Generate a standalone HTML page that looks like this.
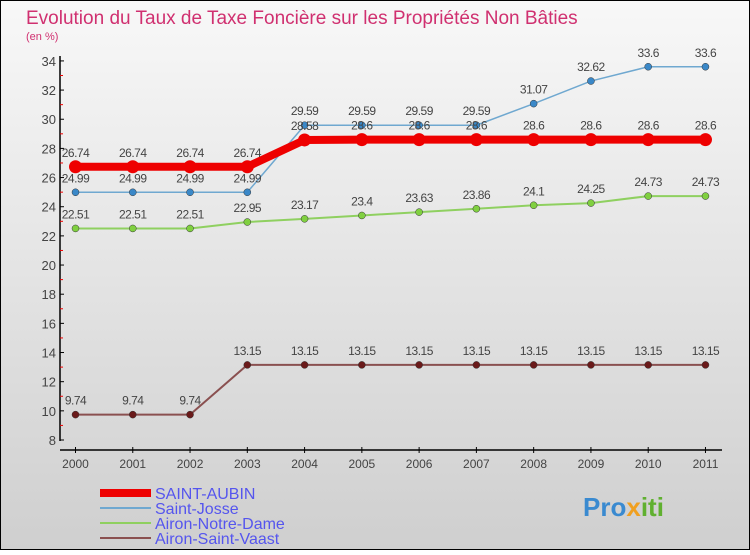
<!DOCTYPE html>
<html><head><meta charset="utf-8"><style>
body{margin:0;width:750px;height:550px;overflow:hidden;font-family:"Liberation Sans",sans-serif}
</style></head><body>
<svg width="750" height="550" xmlns="http://www.w3.org/2000/svg">
<defs><linearGradient id="bg" x1="0" y1="0" x2="0" y2="1"><stop offset="0" stop-color="#f8f8f8"/><stop offset="1" stop-color="#cfcfcf"/></linearGradient></defs>
<rect x="0.5" y="0.5" width="749" height="549" fill="url(#bg)" stroke="#000"/>
<text x="26" y="24" font-size="19" fill="#d03070">Evolution du Taux de Taxe Foncière sur les Propriétés Non Bâties</text>
<text x="26" y="40" font-size="11" fill="#d03070">(en %)</text>
<g id="axes"></g><g id="series"></g>
<g font-size="16" fill="#5555ee">
<rect x="100" y="489" width="51" height="8" fill="#e00"/>
<text x="155" y="499">SAINT-AUBIN</text>
<line x1="100" y1="508" x2="151" y2="508" stroke="#6fa8d0" stroke-width="2"/>
<text x="155" y="514">Saint-Josse</text>
<line x1="100" y1="523" x2="151" y2="523" stroke="#8fd060" stroke-width="2"/>
<text x="155" y="529">Airon-Notre-Dame</text>
<line x1="100" y1="538" x2="151" y2="538" stroke="#8a5050" stroke-width="2"/>
<text x="155" y="544">Airon-Saint-Vaast</text>
</g>
<text x="583" y="516" font-size="26" font-weight="bold" fill="#3a8ad0">Pro<tspan fill="#f0a020">x</tspan><tspan fill="#60b030">iti</tspan></text>
</svg>
<script>
const years=[2000,2001,2002,2003,2004,2005,2006,2007,2008,2009,2010,2011];
const yTicks=[8,10,12,14,16,18,20,22,24,26,28,30,32,34];
const saintAubin=[26.74,26.74,26.74,26.74,28.58,28.6,28.6,28.6,28.6,28.6,28.6,28.6];
const saintJosse=[24.99,24.99,24.99,24.99,29.59,29.59,29.59,29.59,31.07,32.62,33.6,33.6];
const aironND=[22.51,22.51,22.51,22.95,23.17,23.4,23.63,23.86,24.1,24.25,24.73,24.73];
const aironSV=[9.74,9.74,9.74,13.15,13.15,13.15,13.15,13.15,13.15,13.15,13.15,13.15];
const NS="http://www.w3.org/2000/svg";
const X=i=>75.5+i*57.27, Y=v=>440-(v-8)*14.58;
function mk(t,a,p){const e=document.createElementNS(NS,t);for(const k in a)e.setAttribute(k,a[k]);p.appendChild(e);return e;}
const ax=document.getElementById('axes');
let e=mk('line',{x1:60,y1:56,x2:60,y2:441,stroke:'#000','stroke-width':1.5},ax);


e=mk('line',{x1:60,y1:450,x2:722,y2:450,stroke:'#000','stroke-width':1.5},ax);


yTicks.forEach(v=>{
 mk('line',{x1:60,y1:Y(v),x2:64,y2:Y(v),stroke:'#000'},ax);
 if(v<34)mk('line',{x1:60,y1:Y(v+1),x2:63,y2:Y(v+1),stroke:'#e00'},ax);
 const t=mk('text',{x:56,y:Y(v)+5,'text-anchor':'end','font-size':13,fill:'#444'},ax);
 
 
 t.textContent=v;
});
years.forEach((y,i)=>{
 mk('line',{x1:X(i),y1:447,x2:X(i),y2:453,stroke:'#000'},ax);
 const t=mk('text',{x:X(i),y:468,'text-anchor':'middle','font-size':12,fill:'#444'},ax);
 
 
 t.textContent=y;
});
const sg=document.getElementById('series');
function draw(vals,color,w,r,name,dot){
 const g=mk('g',{},sg);
 
 
 const pl=mk('polyline',{points:vals.map((v,i)=>X(i)+','+Y(v)).join(' '),fill:'none',stroke:color,'stroke-width':w},g);
 
 
 vals.forEach((v,i)=>{
  const c=mk('circle',{cx:X(i),cy:Y(v),r:r,fill:dot,stroke:dot==='#e00'?'none':'#333','stroke-width':0.5},g);
  
  
  const t=mk('text',{x:X(i),y:Y(v)-10,'text-anchor':'middle','font-size':12,fill:'#444','letter-spacing':'-0.5'},g);
  
  
  t.textContent=String(v);
 });
}
draw(aironSV,'#8a5050',2,3.5,'airon-saint-vaast','#6a1a1a');
draw(aironND,'#8fd060',2,3.5,'airon-notre-dame','#80d040');
draw(saintJosse,'#6fa8d0',1.5,3.5,'saint-josse','#3a88c8');
draw(saintAubin,'#e00',8,6.5,'saint-aubin','#e00');
</script>
</body></html>
